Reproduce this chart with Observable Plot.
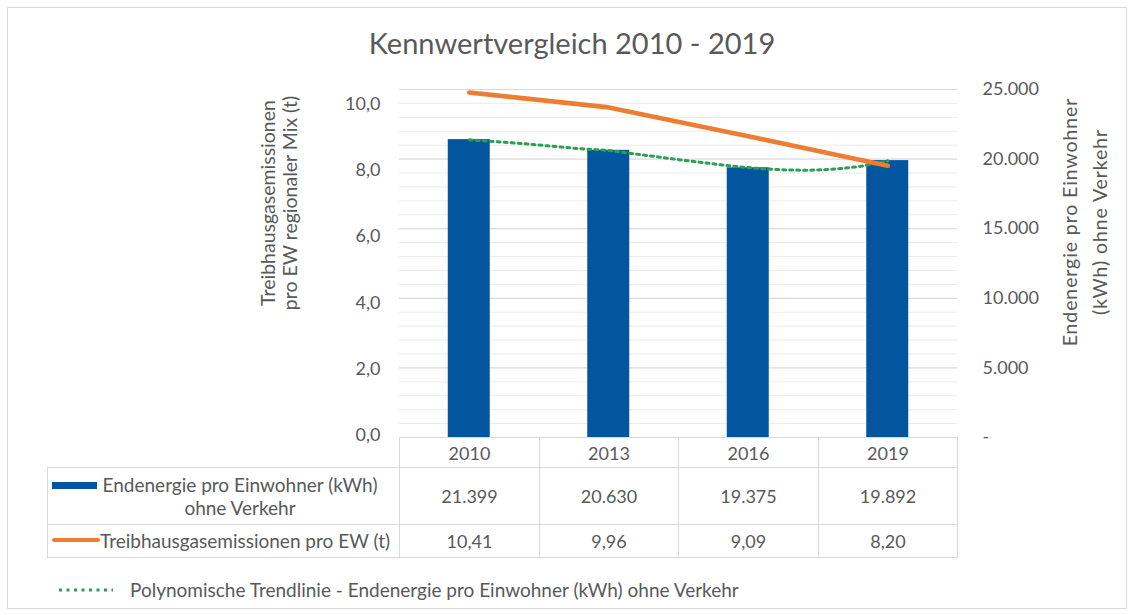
<!DOCTYPE html>
<html>
<head>
<meta charset="utf-8">
<script src="https://cdn.jsdelivr.net/npm/d3@7"></script>
<script src="https://cdn.jsdelivr.net/npm/@observablehq/plot@0.6"></script>
<style>
  html, body { margin: 0; padding: 0; background: #fff; }
  body { font-family: Lato, "Open Sans", sans-serif; color: #595959; }
  #wrap { position: relative; width: 1133px; height: 615px; overflow: hidden; background: #fff; }
  #frame { position: absolute; left: 7px; top: 7px; width: 1120px; height: 602px; border: 1px solid #d9d9d9; box-sizing: border-box; }
  #chart { position: absolute; left: 0; top: 0; }
  .title { position: absolute; left: 0; width: 1144px; top: 24px; text-align: center; font-size: 29px; line-height: 38px; }
  .ytitle { position: absolute; transform: rotate(-90deg); white-space: nowrap; text-align: center; font-size: 19.5px; }
  .cell { position: absolute; box-sizing: border-box; border: 1px solid #d9d9d9; display: flex; align-items: center; justify-content: center; font-size: 18px; text-align: center; }
  .lbl { position: absolute; font-size: 19px; white-space: nowrap; line-height: 23px; }
  .sw { position: absolute; }
</style>
</head>
<body>
<div id="wrap">
  <div id="frame"></div>
  <div id="chart"></div>
</div>
<script>
// ---- data ----
const years = [2010, 2013, 2016, 2019];
const endenergie = [21399, 20630, 19375, 19892];          // kWh per inhabitant (bars, right axis)
const treibhausgas = [10.41, 9.96, 9.09, 8.20];            // t per inhabitant (line, left axis)
// polynomial trendline of Endenergie
const trendX = [2010, 2010.5, 2011, 2011.5, 2012, 2012.5, 2013, 2013.5, 2014, 2014.5, 2015, 2015.5, 2016, 2016.5, 2017, 2017.5, 2018, 2018.5, 2019];
const trendY = [21390, 21270, 21150, 21010, 20860, 20720, 20620, 20400, 20180, 19960, 19760, 19560, 19390, 19270, 19210, 19220, 19330, 19530, 19880];
const leftTicks = [0, 2, 4, 6, 8, 10];
const rightTicks = [0, 5000, 10000, 15000, 20000, 25000];
const titleText = "Kennwertvergleich 2010 - 2019";
const leftTitle = ["Treibhausgasemissionen", "pro EW regionaler Mix (t)"];
const rightTitle = ["Endenergie pro Einwohner", "(kWh) ohne Verkehr"];
const seriesBar = "Endenergie pro Einwohner (kWh)";
const seriesBar2 = "ohne Verkehr";
const seriesLine = "Treibhausgasemissionen pro EW (t)";
const trendLabel = "Polynomische Trendlinie - Endenergie pro Einwohner (kWh) ohne Verkehr";

const de = d3.formatLocale({decimal: ",", thousands: ".", grouping: [3], currency: ["", " €"]});
const fmtInt = de.format(",.0f");
const fmt1 = de.format(".1f");
const fmt2 = de.format(".2f");

const leftMax = 10.5, rightMax = 25000;
const k = rightMax / leftMax; // left-axis units -> y-scale (kWh) units

const rows = years.map((y, i) => ({year: y, kwh: endenergie[i], thg: treibhausgas[i]}));
const trend = trendX.map((x, i) => ({x, y: trendY[i]}));

const BLUE = "#0455a0", ORANGE = "#ed7d31", GREEN = "#2e9e52";

const W = 1133, H = 615;
const chart = Plot.plot({
  width: W, height: H,
  marginLeft: 399, marginRight: 176, marginTop: 89, marginBottom: 178,
  style: {fontFamily: "Lato, 'Open Sans', sans-serif", fontSize: "18px", color: "#595959", background: "transparent"},
  x: {type: "linear", domain: [years[0] - 1.5, years[years.length - 1] + 1.5], axis: null},
  y: {domain: [0, rightMax], axis: null},
  marks: [
    Plot.gridY(d3.range(0, rightMax + 1, 1000), {stroke: "#ececec", strokeOpacity: 1}),
    Plot.gridY(rightTicks, {stroke: "#d9d9d9", strokeOpacity: 1}),
    Plot.rectY(rows, {x1: d => d.year - 1.5, x2: d => d.year + 1.5, y: "kwh", fill: BLUE, insetLeft: 48.75, insetRight: 48.75}),
    Plot.line(trend, {x: "x", y: "y", stroke: GREEN, strokeWidth: 3, strokeDasharray: "3,4", curve: "catmull-rom"}),
    Plot.line(rows, {x: "year", y: d => d.thg * k, stroke: ORANGE, strokeWidth: 4.6, strokeLinecap: "round", strokeLinejoin: "round"}),
    Plot.axisY(leftTicks.map(v => v * k), {anchor: "left", tickSize: 0, tickPadding: 19, tickFormat: v => fmt1(v / k), dy: -2, fontSize: 18}),
    Plot.axisY(rightTicks, {anchor: "right", tickSize: 0, tickPadding: 25, textAnchor: "start", tickFormat: v => v === 0 ? "-" : fmtInt(v), fontSize: 18})
  ]
});
const host = document.getElementById("chart");
host.appendChild(chart);
const wrap = document.getElementById("wrap");
const xs = chart.scale("x");

function add(cls, html, css) {
  const d = document.createElement("div");
  d.className = cls;
  d.innerHTML = html;
  Object.assign(d.style, css);
  wrap.appendChild(d);
  return d;
}

// title
add("title", titleText, {});

// axis titles (rotated)
function ytitle(lines, cx, cy, lh, extra) {
  const w = 340, h = lines.length * lh;
  add("ytitle", lines.join("<br>"), Object.assign({left: (cx - w / 2) + "px", top: (cy - h / 2) + "px", width: w + "px", height: h + "px", lineHeight: lh + "px"}, extra || {}));
}
ytitle(leftTitle, 279, 203, 22);
ytitle(rightTitle, 1085, 222, 30, {letterSpacing: "0.9px"});

// data table
const rowTops = [437, 467, 524, 557];
const leftCol = 47;
rows.forEach((r, i) => {
  const x1 = Math.round(xs.apply(r.year - 1.5)), x2 = Math.round(xs.apply(r.year + 1.5));
  const vals = [String(r.year), fmtInt(r.kwh), fmt2(r.thg)];
  vals.forEach((v, j) => {
    add("cell", v, {left: x1 + "px", top: rowTops[j] + "px", width: (x2 - x1 + 1) + "px", height: (rowTops[j + 1] - rowTops[j] + 1) + "px"});
  });
});
const x0 = Math.round(xs.apply(years[0] - 1.5));
add("cell", "", {left: leftCol + "px", top: rowTops[1] + "px", width: (x0 - leftCol + 1) + "px", height: (rowTops[2] - rowTops[1] + 1) + "px"});
add("cell", "", {left: leftCol + "px", top: rowTops[2] + "px", width: (x0 - leftCol + 1) + "px", height: (rowTops[3] - rowTops[2] + 1) + "px"});

// legend keys inside table
add("sw", "", {left: "52px", top: "482px", width: "45px", height: "7px", background: BLUE});
add("lbl", seriesBar + "<br>" + seriesBar2, {left: "99px", top: "473px", width: "282px", textAlign: "center"});
add("sw", "", {left: "52px", top: "538px", width: "48px", height: "4px", background: ORANGE, borderRadius: "2px"});
add("lbl", seriesLine, {left: "100px", top: "529px"});

// trendline legend
const svgNS = "http://www.w3.org/2000/svg";
const lg = document.createElementNS(svgNS, "svg");
lg.setAttribute("width", "60"); lg.setAttribute("height", "10");
Object.assign(lg.style, {position: "absolute", left: "57px", top: "585px"});
const ln = document.createElementNS(svgNS, "line");
ln.setAttribute("x1", "2"); ln.setAttribute("x2", "56"); ln.setAttribute("y1", "5"); ln.setAttribute("y2", "5");
ln.setAttribute("stroke", GREEN); ln.setAttribute("stroke-width", "3"); ln.setAttribute("stroke-dasharray", "3,4.5");
lg.appendChild(ln);
wrap.appendChild(lg);
add("lbl", trendLabel, {left: "130px", top: "578px"});
</script>
</body>
</html>
